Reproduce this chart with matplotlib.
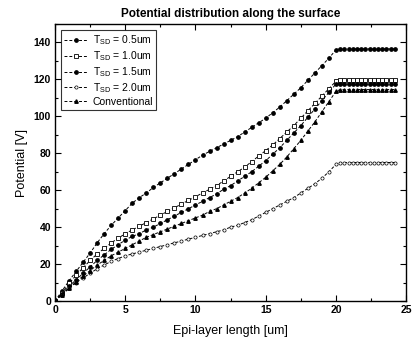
import matplotlib
matplotlib.use("Agg")
import matplotlib.pyplot as plt
from matplotlib.ticker import MultipleLocator

plt.rcParams['font.family'] = ['Liberation Sans', 'DejaVu Sans']
plt.rcParams['mathtext.default'] = 'regular'

# Epi-layer position [um]
x = [0, 0.5, 1, 1.5, 2, 2.5, 3, 3.5, 4, 4.5, 5, 5.5, 6, 6.5, 7, 7.5, 8, 8.5, 9, 9.5,
     10, 10.5, 11, 11.5, 12, 12.5, 13, 13.5, 14, 14.5, 15, 15.5, 16, 16.5, 17, 17.5,
     18, 18.5, 19, 19.5, 20, 20.3, 20.6, 20.9, 21.2, 21.5, 21.8, 22.1, 22.4, 22.7,
     23.0, 23.3, 23.6, 23.9, 24.2]

tsd_05 = [0, 5.5, 11, 16, 21, 26, 31.5, 36.5, 41, 45, 49, 53, 56, 58.5, 61.5, 64, 66.5, 69, 71.5, 74,
          76.5, 79, 81, 83, 85, 87, 89, 91.5, 94, 96.5, 99, 102, 105, 108.5, 112, 115.5,
          119.5, 123.5, 127.5, 131.5, 136, 136.5, 136.5, 136.5, 136.5, 136.5, 136.5, 136.5, 136.5, 136.5,
          136.5, 136.5, 136.5, 136.5, 136.5]

tsd_10 = [0, 4.5, 9.5, 14, 18, 22, 25.5, 28.5, 31.5, 34, 36.5, 38.5, 40.5, 42.5, 44.5, 46.5, 48.5, 50.5, 52.5, 54.5,
          56.5, 58.5, 60.5, 62.5, 65, 67.5, 70, 72.5, 75.5, 78.5, 81.5, 84.5, 88, 91.5, 95, 99,
          103, 107, 111, 115, 119, 119.5, 119.5, 119.5, 119.5, 119.5, 119.5, 119.5, 119.5, 119.5,
          119.5, 119.5, 119.5, 119.5, 119.5]

tsd_15 = [0, 4, 8, 11.5, 15, 18.5, 22, 25, 28, 30.5, 33, 35, 36.5, 38.5, 40, 42, 44, 46, 48, 50,
          52, 54, 56, 58, 60.5, 62.5, 65, 67.5, 70, 73, 76, 79.5, 83, 87, 91, 95,
          99.5, 104, 108.5, 113, 117.5, 117.5, 117.5, 117.5, 117.5, 117.5, 117.5, 117.5, 117.5, 117.5,
          117.5, 117.5, 117.5, 117.5, 117.5]

tsd_20 = [0, 3.5, 7, 10, 12.5, 15, 17.5, 19.5, 21.5, 23, 24.5, 25.5, 26.5, 27.5, 28.5, 29.5, 30.5, 31.5, 32.5, 33.5,
          34.5, 35.5, 36.5, 37.5, 38.5, 40, 41, 42.5, 44, 46, 48, 50, 52, 54, 56, 58.5,
          61, 63.5, 66.5, 70, 74, 75, 75, 75, 75, 75, 75, 75, 75, 75,
          75, 75, 75, 75, 75]

conventional = [0, 3.5, 7, 10.5, 13.5, 16.5, 19.5, 22, 24.5, 26.5, 28.5, 30.5, 32.5, 34.5, 36, 37.5, 39, 40.5, 42, 43.5,
                45, 46.5, 48.5, 50, 52, 54, 56, 58.5, 61, 64, 67, 70.5, 74, 78, 82.5, 87,
                92, 97, 102.5, 108, 113.5, 114.5, 114.5, 114.5, 114.5, 114.5, 114.5, 114.5, 114.5, 114.5,
                114.5, 114.5, 114.5, 114.5, 114.5]

labels = ['T$_{SD}$ = 0.5um', 'T$_{SD}$ = 1.0um', 'T$_{SD}$ = 1.5um',
          'T$_{SD}$ = 2.0um', 'Conventional']

fig = plt.figure(figsize=(4.17, 3.43), dpi=100)
ax = fig.add_axes([0.132, 0.1224, 0.842, 0.8076])

common = dict(color='black', linestyle='--', linewidth=0.7, dashes=(3, 2))
ax.plot(x, tsd_05, marker='o', markersize=2.4, markerfacecolor='black',
        markeredgecolor='black', label=labels[0], **common)
ax.plot(x, tsd_10, marker='s', markersize=2.5, markerfacecolor='white',
        markeredgecolor='black', markeredgewidth=0.6, label=labels[1], **common)
ax.plot(x, tsd_15, marker='o', markersize=2.4, markerfacecolor='black',
        markeredgecolor='black', label=labels[2], **common)
ax.plot(x, tsd_20, marker='o', markersize=2.3, markerfacecolor='white',
        markeredgecolor='black', markeredgewidth=0.5, label=labels[3], **common)
ax.plot(x, conventional, marker='^', markersize=2.5, markerfacecolor='black',
        markeredgecolor='black', label=labels[4], **common)

ax.set_xlim(0, 25)
ax.set_ylim(0, 150)
ax.xaxis.set_major_locator(MultipleLocator(5))
ax.xaxis.set_minor_locator(MultipleLocator(2.5))
ax.yaxis.set_minor_locator(MultipleLocator(10))
ax.set_yticks([0, 20, 40, 60, 80, 100, 120, 140])
ax.tick_params(which='both', direction='in', top=True, right=True, width=0.8)
ax.tick_params(which='major', length=4, labelsize=7.5, pad=3)
ax.tick_params(which='minor', length=2)
for lab in ax.get_xticklabels() + ax.get_yticklabels():
    lab.set_fontweight('bold')
for sp in ax.spines.values():
    sp.set_linewidth(1.0)

ax.set_xlabel('Epi-layer length [um]', fontsize=9, labelpad=7)
ax.set_ylabel('Potential [V]', fontsize=9, labelpad=4)
ax.set_title('Potential distribution along the surface', fontsize=8.5,
             fontweight='bold', pad=5)

leg = ax.legend(loc='upper left', fontsize=7.5, frameon=True, fancybox=False,
                edgecolor='black', handlelength=2.2, handletextpad=0.5,
                labelspacing=0.2, borderpad=0.3, borderaxespad=0.6)
leg.get_frame().set_linewidth(0.8)

fig.savefig('out.png', dpi=100)
